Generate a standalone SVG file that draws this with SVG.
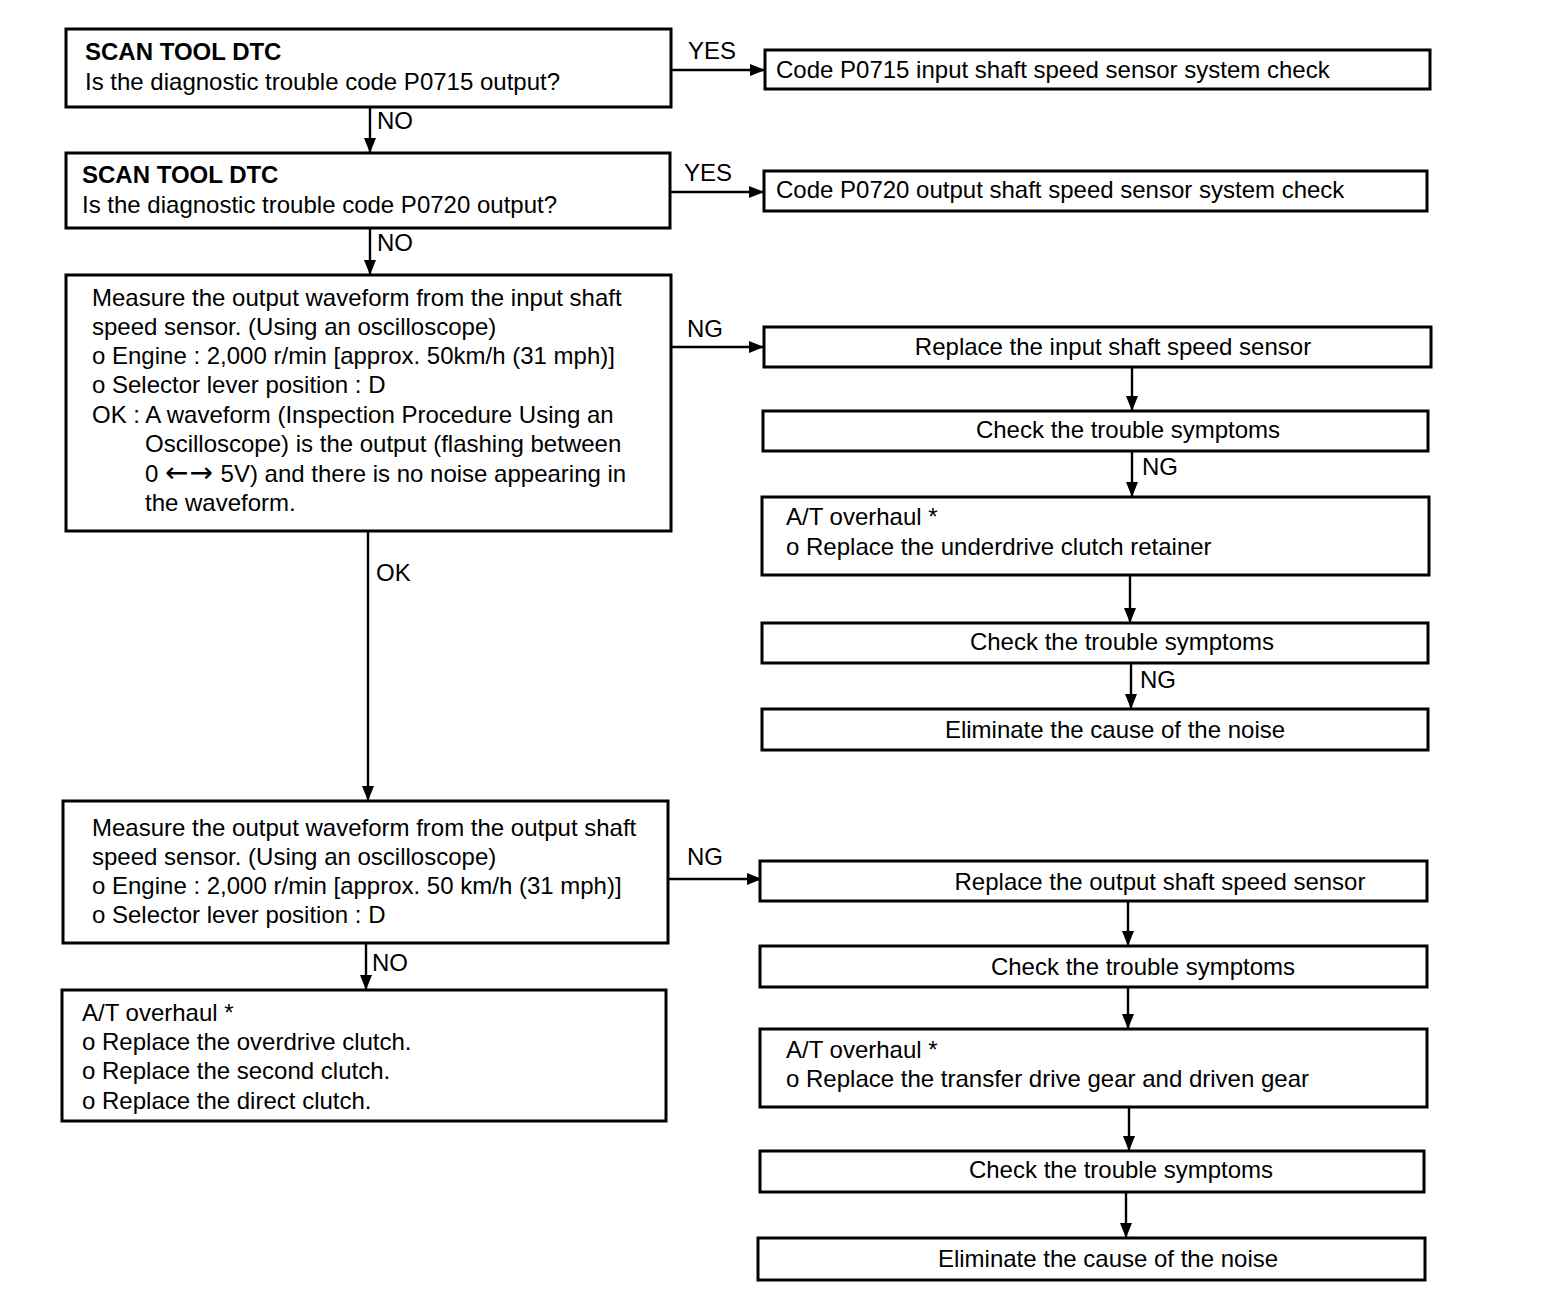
<svg xmlns="http://www.w3.org/2000/svg" width="1568" height="1310" viewBox="0 0 1568 1310">
<style>
text{font-family:"Liberation Sans",Arial,sans-serif;font-size:24px;fill:#000}
.b{font-weight:bold}
.c{text-anchor:middle}
.ar{font-family:"DejaVu Sans",sans-serif;font-size:28px;letter-spacing:1px}
rect{fill:#fff;stroke:#000;stroke-width:3}
.con line{stroke:#000;stroke-width:2.4}
</style>
<defs>
<marker id="ah" markerUnits="userSpaceOnUse" markerWidth="16" markerHeight="12" refX="15" refY="6" orient="auto">
<path d="M0,0 L15,6 L0,12 z" fill="#000"/>
</marker>
</defs>
<rect x="0" y="0" width="1568" height="1310" style="stroke:none;fill:#fff"/>
<g class="con">
<line x1="671" y1="70" x2="765" y2="70" marker-end="url(#ah)"/>
<line x1="370" y1="107" x2="370" y2="153" marker-end="url(#ah)"/>
<line x1="670" y1="192" x2="764" y2="192" marker-end="url(#ah)"/>
<line x1="370" y1="228" x2="370" y2="275" marker-end="url(#ah)"/>
<line x1="671" y1="347" x2="764" y2="347" marker-end="url(#ah)"/>
<line x1="368" y1="531" x2="368" y2="801" marker-end="url(#ah)"/>
<line x1="668" y1="879" x2="762" y2="879" marker-end="url(#ah)"/>
<line x1="366" y1="943" x2="366" y2="990" marker-end="url(#ah)"/>
<line x1="1132" y1="367" x2="1132" y2="411" marker-end="url(#ah)"/>
<line x1="1132" y1="451" x2="1132" y2="497" marker-end="url(#ah)"/>
<line x1="1130" y1="575" x2="1130" y2="623" marker-end="url(#ah)"/>
<line x1="1131" y1="663" x2="1131" y2="709" marker-end="url(#ah)"/>
<line x1="1128" y1="901" x2="1128" y2="946" marker-end="url(#ah)"/>
<line x1="1128" y1="987" x2="1128" y2="1029" marker-end="url(#ah)"/>
<line x1="1129" y1="1107" x2="1129" y2="1151" marker-end="url(#ah)"/>
<line x1="1126" y1="1192" x2="1126" y2="1238" marker-end="url(#ah)"/>
<text x="688" y="59">YES</text>
<text x="377" y="129">NO</text>
<text x="684" y="181">YES</text>
<text x="377" y="251">NO</text>
<text x="687" y="337">NG</text>
<text x="376" y="581">OK</text>
<text x="687" y="865">NG</text>
<text x="372" y="971">NO</text>
<text x="1142" y="475">NG</text>
<text x="1140" y="688">NG</text>
</g>
<g id="q1">
<rect x="66" y="29" width="605" height="78"/>
<text x="85" y="60" class="b">SCAN TOOL DTC</text>
<text x="85" y="90">Is the diagnostic trouble code P0715 output?</text>
</g>
<g id="q2">
<rect x="66" y="153" width="604" height="75"/>
<text x="82" y="183" class="b">SCAN TOOL DTC</text>
<text x="82" y="213">Is the diagnostic trouble code P0720 output?</text>
</g>
<g id="q3">
<rect x="66" y="275" width="605" height="256"/>
<text x="92" y="306">Measure the output waveform from the input shaft</text>
<text x="92" y="335">speed sensor. (Using an oscilloscope)</text>
<text x="92" y="364">o Engine : 2,000 r/min [approx. 50km/h (31 mph)]</text>
<text x="92" y="393">o Selector lever position : D</text>
<text x="92" y="423">OK : A waveform (Inspection Procedure Using an</text>
<text x="145" y="452">Oscilloscope) is the output (flashing between</text>
<text x="145" y="482">0 <tspan class="ar">←→</tspan> 5V) and there is no noise appearing in</text>
<text x="145" y="511">the waveform.</text>
</g>
<g id="q4">
<rect x="63" y="801" width="605" height="142"/>
<text x="92" y="836">Measure the output waveform from the output shaft</text>
<text x="92" y="865">speed sensor. (Using an oscilloscope)</text>
<text x="92" y="894">o Engine : 2,000 r/min [approx. 50 km/h (31 mph)]</text>
<text x="92" y="923">o Selector lever position : D</text>
</g>
<g id="q5">
<rect x="62" y="990" width="604" height="131"/>
<text x="82" y="1021">A/T overhaul *</text>
<text x="82" y="1050">o Replace the overdrive clutch.</text>
<text x="82" y="1079">o Replace the second clutch.</text>
<text x="82" y="1109">o Replace the direct clutch.</text>
</g>
<g id="r1">
<rect x="765" y="50" width="665" height="39"/>
<text x="776" y="78">Code P0715 input shaft speed sensor system check</text>
</g>
<g id="r2">
<rect x="764" y="171" width="663" height="40"/>
<text x="776" y="198">Code P0720 output shaft speed sensor system check</text>
</g>
<g id="r3">
<rect x="764" y="327" width="667" height="40"/>
<text x="1113" y="355" class="c">Replace the input shaft speed sensor</text>
</g>
<g id="r4">
<rect x="763" y="411" width="665" height="40"/>
<text x="1128" y="438" class="c">Check the trouble symptoms</text>
</g>
<g id="r5">
<rect x="762" y="497" width="667" height="78"/>
<text x="786" y="525">A/T overhaul *</text>
<text x="786" y="555">o Replace the underdrive clutch retainer</text>
</g>
<g id="r6">
<rect x="762" y="623" width="666" height="40"/>
<text x="1122" y="650" class="c">Check the trouble symptoms</text>
</g>
<g id="r7">
<rect x="762" y="709" width="666" height="41"/>
<text x="1115" y="738" class="c">Eliminate the cause of the noise</text>
</g>
<g id="r8">
<rect x="760" y="861" width="667" height="40"/>
<text x="1160" y="890" class="c">Replace the output shaft speed sensor</text>
</g>
<g id="r9">
<rect x="760" y="946" width="667" height="41"/>
<text x="1143" y="975" class="c">Check the trouble symptoms</text>
</g>
<g id="r10">
<rect x="760" y="1029" width="667" height="78"/>
<text x="786" y="1058">A/T overhaul *</text>
<text x="786" y="1087">o Replace the transfer drive gear and driven gear</text>
</g>
<g id="r11">
<rect x="760" y="1151" width="664" height="41"/>
<text x="1121" y="1178" class="c">Check the trouble symptoms</text>
</g>
<g id="r12">
<rect x="758" y="1238" width="667" height="42"/>
<text x="1108" y="1267" class="c">Eliminate the cause of the noise</text>
</g>
</svg>
